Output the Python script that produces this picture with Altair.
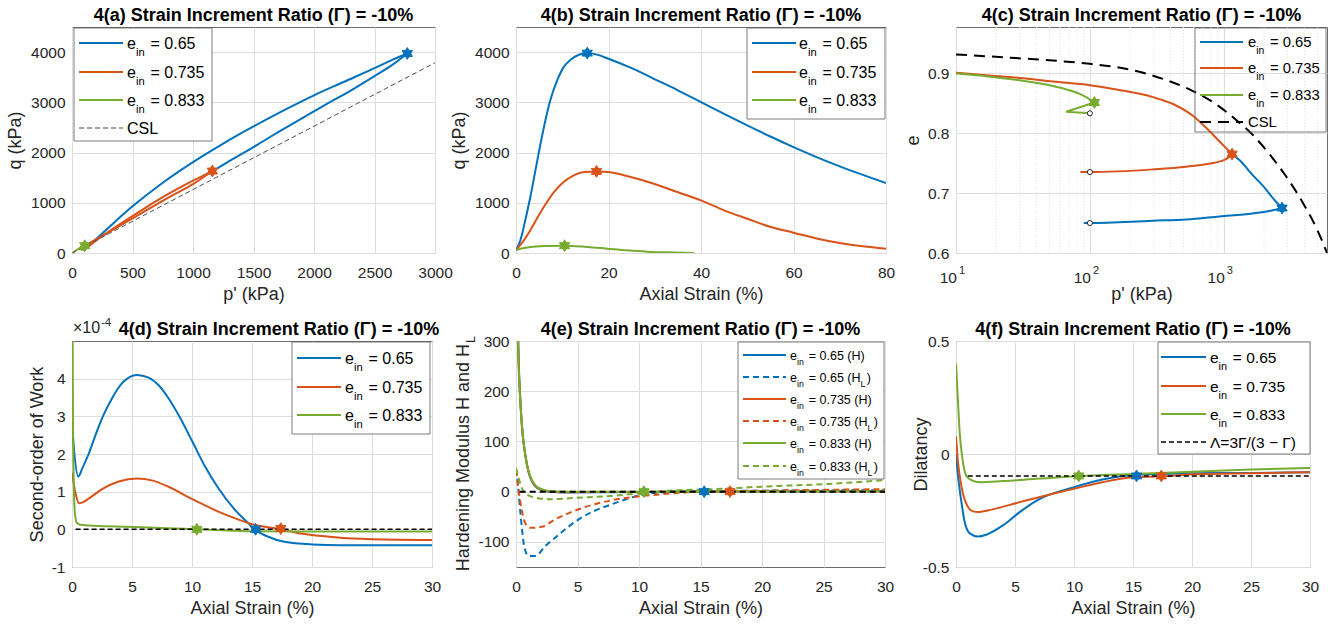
import altair as alt
import pandas as pd

FONT = "Liberation Sans"
BLUE, ORANGE, GREEN = "#0072BD", "#D95319", "#77AC30"
INK = "#262626"
HEXAGRAM = "M0,-1L0.866,0.5L-0.866,0.5Z M0,1L-0.866,-0.5L0.866,-0.5Z"
RUN = "Strain Increment Ratio (\u0393) = -10%"

# ---------------- 4(a) q (kPa) against p' (kPa) ----------------
A_LOAD_P_065 = [100, 250, 500, 750, 1000, 1250, 1500, 1750, 2000, 2250, 2500, 2650, 2771]
A_LOAD_Q_065 = [60, 390, 930, 1400, 1810, 2180, 2520, 2840, 3140, 3410, 3680, 3850, 3973]
A_SOFT_P_065 = [1130, 1300, 1500, 1700, 1900, 2100, 2300, 2500, 2650, 2771]
A_SOFT_Q_065 = [1580, 1830, 2110, 2400, 2680, 2960, 3230, 3520, 3750, 3973]
A_LOAD_P_0735 = [100, 200, 400, 600, 800, 1000, 1160]
A_LOAD_Q_0735 = [60, 250, 580, 890, 1180, 1440, 1632]
A_SOFT_P_0735 = [60, 200, 400, 600, 800, 1000, 1160]
A_SOFT_Q_0735 = [90, 270, 550, 830, 1110, 1370, 1632]
A_PATH_P_0833 = [100, 75, 68, 80, 105, 90, 60, 30, 8]
A_PATH_Q_0833 = [60, 70, 90, 120, 145, 130, 90, 45, 0]
A_PEAK_P = [2771, 1160, 105]
A_PEAK_Q = [3973, 1632, 145]
A_CSL_P = [0, 3000]
A_CSL_Q = [0, 3788]

# ---------------- 4(b) q (kPa) against axial strain (%) ----------------
B_E_065 = [0, 0.94, 2.0, 3.1, 4.2, 5.3, 6.35, 7.4, 8.9, 10.3, 11.8, 13.6, 15.4, 17.5, 20, 25,
           29.8, 35, 40, 45, 50, 55, 60, 65, 70, 75, 80]
B_Q_065 = [60, 252, 650, 1114, 1645, 2176, 2640, 3038, 3436, 3701, 3847, 3947, 3980, 3950, 3867,
           3680, 3469, 3240, 3005, 2770, 2541, 2320, 2109, 1910, 1725, 1555, 1393]
B_E_0735 = [0, 1.7, 3.1, 4.5, 6.0, 8.2, 10.3, 12.5, 14.7, 17.4, 20, 24.8, 29.8, 34.9, 40, 45,
            50, 55.1, 60, 65.2, 70, 75, 80]
B_Q_0735 = [60, 252, 451, 683, 915, 1214, 1413, 1546, 1612, 1625, 1612, 1512, 1380, 1214, 1048,
            849, 683, 517, 405, 285, 199, 133, 86]
B_E_0833 = [0, 3.1, 6.7, 10.5, 15.4, 19.7, 24, 28.4, 32.7, 38.5]
B_Q_0833 = [60, 119, 139, 146, 119, 86, 53, 27, 13, 0]
B_PEAK_E = [15.4, 17.4, 10.5]
B_PEAK_Q = [3980, 1625, 146]

# ---------------- 4(c) void ratio e against p' (kPa), log axis ----------------
C_LOAD_P_065 = [90, 100, 295, 525, 929, 1644, 2193, 2722]
C_LOAD_E_065 = [0.650, 0.650, 0.654, 0.656, 0.661, 0.666, 0.670, 0.675]
C_SOFT_P_065 = [1130, 1309, 1644, 2000, 2400, 2722]
C_SOFT_E_065 = [0.766, 0.755, 0.730, 0.710, 0.688, 0.675]
C_LOAD_P_0735 = [85, 100, 295, 525, 828, 1040, 1153]
C_LOAD_E_0735 = [0.735, 0.735, 0.7395, 0.744, 0.750, 0.7565, 0.765]
C_SOFT_P_0735 = [10, 16.8, 30, 53, 100, 166, 295, 417, 587, 738, 930, 1153]
C_SOFT_E_0735 = [0.901, 0.8966, 0.892, 0.886, 0.880, 0.872, 0.860, 0.8486, 0.829, 0.809, 0.786, 0.765]
C_LOAD_P_0833 = [100, 66.5, 108]
C_LOAD_E_0833 = [0.833, 0.8356, 0.851]
C_SOFT_P_0833 = [10, 16.8, 30, 53, 66.5, 84, 94, 108]
C_SOFT_E_0833 = [0.8994, 0.895, 0.888, 0.8785, 0.873, 0.8655, 0.860, 0.851]
C_PEAK_P = [2722, 1153, 108]
C_PEAK_E = [0.675, 0.765, 0.851]
C_START_P = [100, 100, 100]
C_START_E = [0.65, 0.735, 0.833]
C_CSL_P = [10, 22.4, 53, 100, 209, 371, 555, 877, 1237, 1645, 2192, 2917, 3890, 5029, 5900]
C_CSL_E = [0.9313, 0.9265, 0.921, 0.9155, 0.905, 0.8885, 0.873, 0.848, 0.822, 0.797, 0.765,
           0.728, 0.684, 0.637, 0.600]
C_MAJOR = [10, 100, 1000]
C_EXPONENT = ["1", "2", "3"]
C_MINOR = [20, 30, 40, 50, 60, 70, 80, 90, 200, 300, 400, 500, 600, 700, 800, 900,
           2000, 3000, 4000, 5000]

# ---------------- 4(d) second-order work (x 1e-4) against axial strain (%) ----------------
D_E_065 = [0, 0.2, 0.52, 0.86, 1.41, 1.96, 2.51, 3.34, 4.17, 5.41, 6.38, 7.2, 8.04, 8.87, 10.03,
           11.1, 12.2, 13.6, 14.7, 15.2, 16.3, 17.7, 20, 22.4, 25, 30]
D_W_065 = [2.8, 2.0, 1.40, 1.62, 2.02, 2.50, 2.95, 3.48, 3.88, 4.10, 4.03, 3.83, 3.48, 3.04, 2.33,
           1.66, 1.09, 0.51, 0.16, 0.0, -0.19, -0.33, -0.40, -0.42, -0.42, -0.42]
D_E_0735 = [0, 0.3, 0.58, 0.9, 1.41, 2.51, 3.9, 5.41, 6.66, 8.04, 10.03, 12.2, 13.6, 15.2, 17.2,
            19.1, 21.9, 25, 30]
D_W_0735 = [1.5, 0.95, 0.69, 0.72, 0.82, 1.07, 1.27, 1.35, 1.30, 1.13, 0.80, 0.47, 0.29, 0.12,
            0.01, -0.11, -0.21, -0.26, -0.28]
D_E_0833 = [0.02, 0.08, 0.15, 0.25, 0.4, 0.7, 1.5, 3, 5.3, 8, 10.4, 13, 15, 20, 30]
D_W_0833 = [8, 3, 1.2, 0.4, 0.18, 0.12, 0.10, 0.08, 0.06, 0.03, 0.0, -0.03, -0.05, -0.06, -0.06]
D_PEAK_E = [15.3, 17.4, 10.4]
D_PEAK_W = [0, 0.02, 0]
D_ZERO_E = [0.3, 30]
D_ZERO_W = [0, 0]

# ---------------- 4(e) hardening moduli H and H_L against axial strain (%) ----------------
E_E_065_H = [0, 0.1, 0.22, 0.35, 0.49, 0.76, 1.03, 1.3, 1.7, 2.1, 2.66, 4, 8, 15.3, 20, 30]
E_H_065_H = [700, 420, 260, 185, 130, 72, 38, 20, 8, 3, 0, -1.5, -1, 0, 0.5, 0.8]
E_E_065_HL = [0, 0.08, 0.35, 0.7, 1.03, 1.57, 2.4, 3.5, 5.1, 6.4, 7.8, 10.1, 12.1, 15.1, 20, 25, 30]
E_H_065_HL = [45, 33, -40, -113, -128, -128, -108, -85, -55, -38, -25, -7, -1, 1, 2, 2.5, 3]
E_E_0735_H = [0, 0.1, 0.22, 0.35, 0.49, 0.76, 1.03, 1.3, 1.7, 2.1, 2.66, 4, 8, 17.4, 20, 30]
E_H_0735_H = [650, 400, 255, 182, 128, 72, 39, 21, 9, 4, 0.5, -1, -0.5, 0, 0.3, 0.6]
E_E_0735_HL = [0, 0.35, 0.76, 1.17, 2.1, 3.2, 5.1, 6.4, 7.8, 10.1, 11.9, 15.1, 20, 30]
E_H_0735_HL = [43, -20, -63, -72, -70, -55, -35, -25, -17, -9, -5, 0, 2, 5]
E_E_0833_H = [0, 0.1, 0.22, 0.35, 0.49, 0.76, 1.03, 1.3, 1.7, 2.1, 2.66, 4, 10.4, 20, 30]
E_H_0833_H = [600, 380, 247, 180, 127, 73, 40, 23, 10, 5, 1.3, 0, 0, 0.5, 1]
E_E_0833_HL = [0, 0.3, 0.7, 1.8, 2.7, 5.1, 8, 10.1, 13.2, 15.1, 20, 25, 30]
E_H_0833_HL = [47, 20, -3, -13, -15, -12, -8, -3, 3, 4, 10, 15, 23]
E_PEAK_E = [15.3, 17.4, 10.4]
E_PEAK_H = [0, 0, 0]
E_ZERO_E = [0.3, 30]
E_ZERO_H = [0, 0]

# ---------------- 4(f) dilatancy against axial strain (%) ----------------
F_E_065 = [0, 0.17, 0.45, 0.73, 1.15, 1.86, 2.56, 3.97, 5.4, 7.1, 10, 12.4, 15, 17.2, 20, 25, 30]
F_D_065 = [0.0, -0.096, -0.21, -0.30, -0.35, -0.365, -0.357, -0.316, -0.257, -0.199, -0.147,
           -0.113, -0.093, -0.088, -0.085, -0.084, -0.081]
F_E_0735 = [0, 0.17, 0.45, 0.87, 1.44, 1.86, 3.1, 5.4, 8.2, 10, 12.4, 15, 17.4, 20, 25, 30]
F_D_0735 = [0.08, -0.037, -0.14, -0.22, -0.254, -0.257, -0.245, -0.213, -0.176, -0.154, -0.125,
            -0.103, -0.099, -0.09, -0.085, -0.081]
F_E_0833 = [0, 0.17, 0.31, 0.54, 0.87, 1.4, 2.0, 3.97, 6.8, 10, 15, 20, 25, 30]
F_D_0833 = [0.40, 0.228, 0.096, -0.018, -0.096, -0.118, -0.125, -0.12, -0.11, -0.099, -0.088,
            -0.078, -0.069, -0.062]
F_PEAK_E = [15.3, 17.4, 10.4]
F_PEAK_D = [-0.097, -0.097, -0.097]
F_LAMBDA_E = [1.0, 30]
F_LAMBDA_D = [-0.0968, -0.0968]

# ---------------- drawing helpers ----------------
ONE = [{"k": 0}]
CHAR_W = {" ": 0.278, "=": 0.584, ".": 0.278, "(": 0.333, ")": 0.333, "H": 0.722, "L": 0.556,
          "e": 0.556, "i": 0.222, "n": 0.556, "C": 0.722, "S": 0.667, "-": 0.333}
SERIES = [BLUE, ORANGE, GREEN]
MINUS_FIX = "replace(datum.label, '\u2212', '-')"
H = 226


def text_w(s, size):
    return sum(CHAR_W.get(c, 0.556) for c in s) * size


def single():
    return alt.Chart(alt.Data(values=ONE))


def xq(domain, values, title, kind="linear", labels=True, fmt=None):
    kw = dict(values=values, title=title, grid=True, labels=labels,
              labelBaseline="alphabetic", labelPadding=24, labelFlush=False,
              titleBaseline="alphabetic", titleY=46)
    if fmt:
        kw["format"] = fmt
    return alt.X("x:Q", scale=alt.Scale(type=kind, domain=domain, nice=False, zero=False),
                 axis=alt.Axis(**kw))


def yq(domain, values, title, title_x, expr=MINUS_FIX, fmt=None):
    kw = dict(values=values, grid=True, labelPadding=7, labelFlush=False, labelExpr=expr)
    if fmt:
        kw["format"] = fmt
    if title:
        kw.update(title=title, titleX=title_x, titleBaseline="alphabetic", titleAngle=270)
    else:
        kw["title"] = None
    return alt.Y("y:Q", scale=alt.Scale(domain=domain, nice=False, zero=False), axis=alt.Axis(**kw))


def line(xs, ys, color, X, Y, dash=None, width=2.0, interp="monotone"):
    df = pd.DataFrame({"x": xs, "y": ys, "i": list(range(len(xs)))})
    props = dict(color=color, strokeWidth=width, clip=True, interpolate=interp)
    if dash:
        props["strokeDash"] = dash
    return alt.Chart(df).mark_line(**props).encode(x=X, y=Y, order="i:Q")


def stars(xs, ys, X, Y):
    out = []
    for x, y, c in zip(xs, ys, SERIES):
        df = pd.DataFrame({"x": [x], "y": [y]})
        out.append(alt.Chart(df).mark_point(shape=HEXAGRAM, filled=True, size=140, opacity=1,
                                            color=c, stroke=c, strokeWidth=1)
                   .encode(x=X, y=Y))
    return out


def legend(box, sample, tx, rows, entries, size, fill="white"):
    x0, y0, x1, y1 = box
    out = [single().mark_rect(fill=fill, stroke="#5a5a5a", strokeWidth=0.8)
           .encode(x=alt.value(x0), x2=alt.value(x1), y=alt.value(y0), y2=alt.value(y1))]
    sub = size * 0.7
    for yc, (color, dash, width, pieces) in zip(rows, entries):
        props = dict(color=color, strokeWidth=width)
        if dash:
            props["strokeDash"] = dash
        out.append(single().mark_rule(**props)
                   .encode(x=alt.value(sample[0]), x2=alt.value(sample[1]), y=alt.value(yc)))
        cx = tx
        for text, is_sub in pieces:
            fs = sub if is_sub else size
            body = text.lstrip(" ")
            cx += text_w(text[:len(text) - len(body)], fs)
            yb = yc + 0.36 * size + (0.45 * size if is_sub else 0)
            out.append(single().mark_text(align="left", baseline="alphabetic", font=FONT,
                                          fontSize=fs, color="black")
                       .encode(x=alt.value(cx), y=alt.value(yb), text=alt.value(body)))
            cx += text_w(body, fs) + (1.5 if is_sub else 0)
    return out


def ein(value, tail=None):
    pieces = [("e", False), ("in", True), (" = " + value, False)]
    if tail == "H":
        pieces[-1] = (" = " + value + " (H)", False)
    elif tail == "HL":
        pieces[-1] = (" = " + value + " (H", False)
        pieces += [("L", True), (")", False)]
    return pieces


def heading(text, width, dx=0):
    return single().mark_text(align="center", baseline="alphabetic", font=FONT, fontSize=18,
                              fontWeight="bold", color="black").encode(
        x=alt.value(width / 2 + dx), y=alt.value(-6), text=alt.value(text))


SOLID = None
DASH = [6, 4]
E_ROWS = [(BLUE, SOLID, 2, ein("0.65")), (ORANGE, SOLID, 2, ein("0.735")),
          (GREEN, SOLID, 2, ein("0.833"))]

# ---------------- panel (a) ----------------
XA = xq([0, 3000], [0, 500, 1000, 1500, 2000, 2500, 3000], "p' (kPa)", fmt="d")
YA = yq([0, 4500], [0, 1000, 2000, 3000, 4000], "q (kPa)", -52, fmt="d")
panel_a = alt.layer(
    line(A_LOAD_P_065, A_LOAD_Q_065, BLUE, XA, YA),
    line(A_SOFT_P_065, A_SOFT_Q_065, BLUE, XA, YA),
    line(A_LOAD_P_0735, A_LOAD_Q_0735, ORANGE, XA, YA),
    line(A_SOFT_P_0735, A_SOFT_Q_0735, ORANGE, XA, YA),
    line(A_PATH_P_0833, A_PATH_Q_0833, GREEN, XA, YA, interp="linear"),
    line(A_CSL_P, A_CSL_Q, "#505050", XA, YA, dash=[5, 3], width=1, interp="linear"),
    *stars(A_PEAK_P, A_PEAK_Q, XA, YA),
    *legend((2, 1, 140, 114), (7, 51), 55, [16, 45, 73, 101],
            E_ROWS + [("#505050", [5, 3], 1, [("CSL", False)])], 16),
    heading("4(a) " + RUN, 363),
).properties(width=363, height=H)

# ---------------- panel (b) ----------------
XB = xq([0, 80], [0, 20, 40, 60, 80], "Axial Strain (%)")
YB = yq([0, 4500], [0, 1000, 2000, 3000, 4000], "q (kPa)", -52, fmt="d")
panel_b = alt.layer(
    line(B_E_065, B_Q_065, BLUE, XB, YB),
    line(B_E_0735, B_Q_0735, ORANGE, XB, YB),
    line(B_E_0833, B_Q_0833, GREEN, XB, YB),
    *stars(B_PEAK_E, B_PEAK_Q, XB, YB),
    *legend((231, 1, 369, 92), (236, 280), 283, [16, 45, 73], E_ROWS, 16),
    heading("4(b) " + RUN, 370),
).properties(width=370, height=H)

# ---------------- panel (c) ----------------
XC = xq([10, 5900], C_MAJOR, "p' (kPa)", kind="log", labels=False)
YC = yq([0.6, 0.977], [0.6, 0.7, 0.8, 0.9], "e", -38, expr="datum.label", fmt=".1f")
minor = alt.Chart(pd.DataFrame({"x": C_MINOR})).mark_rule(
    color="#e2e2e2", strokeDash=[1, 2], strokeWidth=1).encode(x=XC, y=alt.value(0), y2=alt.value(H))
ticks_df = pd.DataFrame({"x": C_MAJOR, "p": C_EXPONENT})
tick_base = alt.Chart(ticks_df).mark_text(align="right", baseline="alphabetic", font=FONT,
                                          fontSize=15.5, color=INK, dx=1)
tick_exp = alt.Chart(ticks_df).mark_text(align="left", baseline="alphabetic", font=FONT,
                                         fontSize=11, color=INK, dx=3)
circles = alt.Chart(pd.DataFrame({"x": C_START_P, "y": C_START_E})).mark_point(
    shape="circle", filled=True, size=26, fill="white", stroke="#262626", strokeWidth=1,
    opacity=1).encode(x=XC, y=YC)
panel_c = alt.layer(
    minor,
    line(C_LOAD_P_065, C_LOAD_E_065, BLUE, XC, YC),
    line(C_SOFT_P_065, C_SOFT_E_065, BLUE, XC, YC),
    line(C_LOAD_P_0735, C_LOAD_E_0735, ORANGE, XC, YC),
    line(C_SOFT_P_0735, C_SOFT_E_0735, ORANGE, XC, YC),
    line(C_LOAD_P_0833, C_LOAD_E_0833, GREEN, XC, YC, interp="linear"),
    line(C_SOFT_P_0833, C_SOFT_E_0833, GREEN, XC, YC),
    line(C_CSL_P, C_CSL_E, "black", XC, YC, dash=[11, 7], width=2),
    *stars(C_PEAK_P, C_PEAK_E, XC, YC),
    circles,
    tick_base.encode(x=XC, y=alt.value(H + 30), text=alt.value("10")),
    tick_exp.encode(x=XC, y=alt.value(H + 21), text="p:N"),
    *legend((239, 1, 370, 105), (244, 287), 292, [15, 41, 68, 95],
            E_ROWS + [("black", [11, 7], 2, [("CSL", False)])], 14.8, fill="transparent"),
    heading("4(c) " + RUN, 371),
).properties(width=371, height=H)

# ---------------- panel (d) ----------------
XD = xq([0, 30], [0, 5, 10, 15, 20, 25, 30], "Axial Strain (%)")
YD = yq([-1, 5], [-1, 0, 1, 2, 3, 4], "Second-order of Work", -30)
exp_base = single().mark_text(align="left", baseline="alphabetic", font=FONT, fontSize=16,
                              color=INK).encode(x=alt.value(1), y=alt.value(-8),
                                                text=alt.value("\u00d710"))
exp_pow = single().mark_text(align="left", baseline="alphabetic", font=FONT, fontSize=11.5,
                             color=INK).encode(x=alt.value(29), y=alt.value(-15),
                                               text=alt.value("-4"))
panel_d = alt.layer(
    line(D_E_065, D_W_065, BLUE, XD, YD),
    line(D_E_0735, D_W_0735, ORANGE, XD, YD),
    line(D_E_0833, D_W_0833, GREEN, XD, YD),
    line(D_ZERO_E, D_ZERO_W, "black", XD, YD, dash=[5, 3], width=1.5, interp="linear"),
    *stars(D_PEAK_E, D_PEAK_W, XD, YD),
    exp_base, exp_pow,
    *legend((220, 1, 358, 93), (225, 269), 273, [17, 46, 74], E_ROWS, 16),
    heading("4(d) " + RUN, 360, dx=27),
).properties(width=360, height=H)

# ---------------- panel (e) ----------------
XE = xq([0, 30], [0, 5, 10, 15, 20, 25, 30], "Axial Strain (%)")
YE = yq([-150, 300], [-100, 0, 100, 200, 300], None, 0)
e_title = single().mark_text(align="right", baseline="alphabetic", angle=270, font=FONT,
                             fontSize=18, color=INK).encode(
    x=alt.value(-47), y=alt.value(3), text=alt.value("Hardening Modulus H and H"))
e_title_sub = single().mark_text(align="left", baseline="alphabetic", angle=270, font=FONT,
                                 fontSize=12.6, color=INK).encode(
    x=alt.value(-41), y=alt.value(2), text=alt.value("L"))
E_LEGEND = [(BLUE, SOLID, 2, ein("0.65", "H")), (BLUE, DASH, 2, ein("0.65", "HL")),
            (ORANGE, SOLID, 2, ein("0.735", "H")), (ORANGE, DASH, 2, ein("0.735", "HL")),
            (GREEN, SOLID, 2, ein("0.833", "H")), (GREEN, DASH, 2, ein("0.833", "HL"))]
panel_e = alt.layer(
    line(E_E_065_H, E_H_065_H, BLUE, XE, YE),
    line(E_E_065_HL, E_H_065_HL, BLUE, XE, YE, dash=DASH),
    line(E_E_0735_H, E_H_0735_H, ORANGE, XE, YE),
    line(E_E_0735_HL, E_H_0735_HL, ORANGE, XE, YE, dash=DASH),
    line(E_E_0833_H, E_H_0833_H, GREEN, XE, YE),
    line(E_E_0833_HL, E_H_0833_HL, GREEN, XE, YE, dash=DASH),
    line(E_ZERO_E, E_ZERO_H, "black", XE, YE, dash=DASH, width=2, interp="linear"),
    *stars(E_PEAK_E, E_PEAK_H, XE, YE),
    e_title, e_title_sub,
    *legend((222, 1, 368, 138), (227, 270), 274, [14, 36, 58, 80, 102, 125], E_LEGEND, 12.5),
    heading("4(e) " + RUN, 369),
).properties(width=369, height=H)

# ---------------- panel (f) ----------------
XF = xq([0, 30], [0, 5, 10, 15, 20, 25, 30], "Axial Strain (%)")
YF = yq([-0.5, 0.5], [-0.5, 0, 0.5], "Dilatancy", -29.5,
        expr="datum.value == 0 ? '0' : replace(format(datum.value, '.1f'), '\u2212', '-')")
panel_f = alt.layer(
    line(F_E_065, F_D_065, BLUE, XF, YF),
    line(F_E_0735, F_D_0735, ORANGE, XF, YF),
    line(F_E_0833, F_D_0833, GREEN, XF, YF),
    line(F_LAMBDA_E, F_LAMBDA_D, "black", XF, YF, dash=[5, 3], width=1.5, interp="linear"),
    *stars(F_PEAK_E, F_PEAK_D, XF, YF),
    *legend((202, 1, 354, 113), (205, 250), 254, [16, 45, 73, 101],
            E_ROWS + [("black", [5, 3], 1.5, [("\u039b=3\u0393/(3 \u2212 \u0393)", False)])], 15.5),
    heading("4(f) " + RUN, 354),
).properties(width=354, height=H)


def spacer(w):
    return single().mark_point(opacity=0, size=1).encode(x=alt.value(0), y=alt.value(0)).properties(
        width=w, height=H, view=alt.ViewBackground(stroke="transparent"))


cells = [spacer(1), panel_a, spacer(78), panel_b, spacer(61), panel_c,
         spacer(3), panel_d, spacer(81), panel_e, spacer(70), panel_f]

chart = alt.concat(*cells, columns=6, spacing={"row": 88, "column": 0}, align="none",
                   bounds="flush").properties(
    padding={"left": 5, "top": 6, "right": 5, "bottom": 0}, background="white"
).configure_view(stroke="#6b6b6b", strokeWidth=1).configure_axis(
    labelFont=FONT, labelFontSize=15.5, labelColor=INK, titleFont=FONT, titleFontSize=18,
    titleFontWeight="normal", titleColor=INK, gridColor="#dedede", gridWidth=1, domain=False,
    ticks=False, tickSize=0, labelOverlap=False)

chart.save("out.html", embed_options={"renderer": "svg", "actions": False})
